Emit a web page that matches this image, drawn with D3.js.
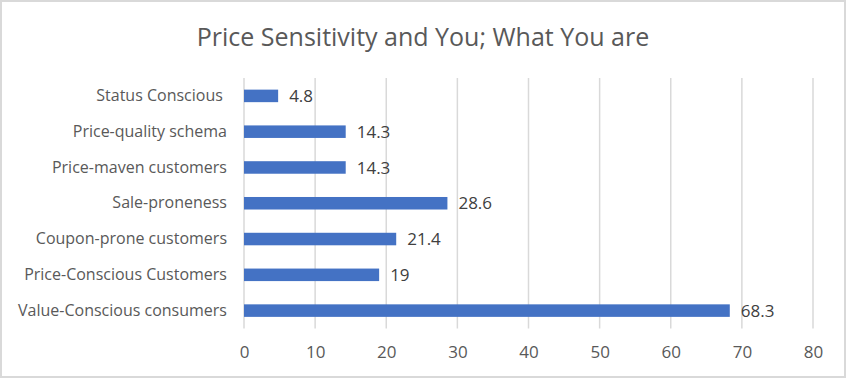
<!DOCTYPE html>
<html><head><meta charset="utf-8">
<script src="https://cdn.jsdelivr.net/npm/d3@7"></script>
<style>body{margin:0;background:#fff}svg{display:block}text{white-space:pre}</style>
</head><body>
<svg id="c" width="846" height="378"></svg>
<script>
const categories = ["Status Conscious ","Price-quality schema","Price-maven customers","Sale-proneness","Coupon-prone customers","Price-Conscious Customers","Value-Conscious consumers"];
const values = [4.8,14.3,14.3,28.6,21.4,19,68.3];
const valueLabels = ["4.8","14.3","14.3","28.6","21.4","19","68.3"];
const xTicks = [0,10,20,30,40,50,60,70,80];
const title = "Price Sensitivity and You; What You are";

const svg = d3.select("#c");
const font = "'Open Sans', sans-serif";
svg.append("rect").attr("x",1).attr("y",1).attr("width",844).attr("height",376)
  .attr("fill","#fff").attr("stroke","#d9d9d9").attr("stroke-width",2);

const x = d3.scaleLinear().domain([0,80]).range([244,813]);
const y = d3.scaleBand().domain(categories).range([78,328.5]).paddingInner(0.65).paddingOuter(0.325);

svg.append("text").attr("x",423).attr("y",46).attr("text-anchor","middle")
  .attr("font-family",font).attr("font-size",25).attr("fill","#595959").text(title);

const grid = svg.append("g");
grid.selectAll("line").data(xTicks).join("line")
  .attr("x1",d=>x(d)).attr("x2",d=>x(d)).attr("y1",78).attr("y2",328.5)
  .attr("stroke","#d9d9d9").attr("stroke-width",1.5);

const xAxis = svg.append("g").attr("transform","translate(0,358)")
  .call(d3.axisBottom(x).tickValues(xTicks).tickSize(0).tickPadding(0));
xAxis.select(".domain").remove();
xAxis.selectAll("text").attr("y",0).attr("dy",0).attr("font-family",font).attr("font-size",17).attr("fill","#595959");

const yAxis = svg.append("g").attr("transform","translate(227,0)")
  .call(d3.axisLeft(y).tickSize(0).tickPadding(0));
yAxis.select(".domain").remove();
yAxis.selectAll("text").attr("font-family",font).attr("font-size",16).attr("fill","#595959");

svg.append("g").selectAll("rect").data(categories).join("rect")
  .attr("x",x(0)).attr("y",d=>y(d)).attr("height",y.bandwidth())
  .attr("width",(d,i)=>x(values[i])-x(0)).attr("fill","#4472c4");

svg.append("g").selectAll("text").data(categories).join("text")
  .attr("x",(d,i)=>x(values[i])+11).attr("y",d=>y(d)+y.bandwidth()/2).attr("dy","0.36em")
  .attr("font-family",font).attr("font-size",17).attr("fill","#404040")
  .text((d,i)=>valueLabels[i]);
</script>
</body></html>
